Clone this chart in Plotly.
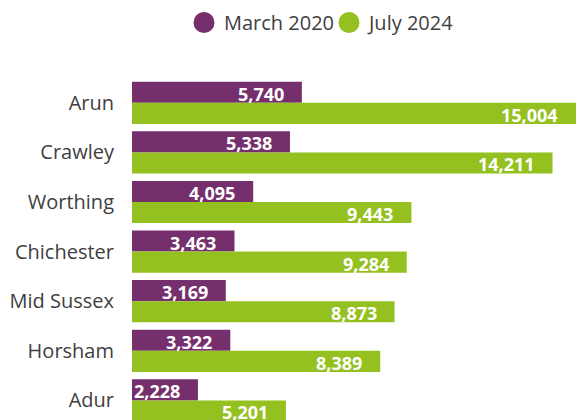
import plotly.graph_objects as go

categories = ["Arun", "Crawley", "Worthing", "Chichester", "Mid Sussex", "Horsham", "Adur"]
march_2020 = [5740, 5338, 4095, 3463, 3169, 3322, 2228]
july_2024 = [15004, 14211, 9443, 9284, 8873, 8389, 5201]
series_names = ["March 2020", "July 2024"]

PURPLE = "#752F6C"
GREEN = "#94C11F"
FONT = "Open Sans"
GREY = "#404040"

fig = go.Figure()
fig.add_trace(go.Bar(y=categories, x=march_2020, orientation="h", name=series_names[0],
                     marker=dict(color=PURPLE, line=dict(width=0)), showlegend=False,
                     hoverinfo="x+y"))
fig.add_trace(go.Bar(y=categories, x=july_2024, orientation="h", name=series_names[1],
                     marker=dict(color=GREEN, line=dict(width=0)), showlegend=False,
                     hoverinfo="x+y"))
# legend entries with circle symbols
for name, col in zip(series_names, [PURPLE, GREEN]):
    fig.add_trace(go.Scatter(x=[None], y=[None], mode="markers", name=name,
                             marker=dict(symbol="circle", size=16, color=col,
                                         line=dict(color=col, width=5))))

annotations = []
for vals, shift in [(march_2020, 9), (july_2024, -12)]:
    for cat, v in zip(categories, vals):
        annotations.append(dict(x=v, y=cat, xref="x", yref="y", text=f"{v:,}",
                                showarrow=False, xanchor="right", yanchor="middle",
                                xshift=-16, yshift=shift,
                                font=dict(family=FONT, size=18, color="white", weight="bold")))

fig.update_layout(
    width=577, height=420,
    margin=dict(l=132, r=0, t=78, b=0, pad=0),
    barmode="group", bargap=0.15, bargroupgap=0,
    plot_bgcolor="white", paper_bgcolor="white",
    font=dict(family=FONT, size=20, color=GREY),
    showlegend=True,
    legend=dict(orientation="h", xref="container", yref="container",
                x=184 / 577, xanchor="left", y=1 - 3 / 420, yanchor="top",
                entrywidth=100, entrywidthmode="pixels",
                font=dict(family=FONT, size=20, color=GREY),
                itemsizing="trace", traceorder="normal",
                bgcolor="rgba(0,0,0,0)", itemclick=False, itemdoubleclick=False),
    xaxis=dict(range=[0, 15038], visible=False, showgrid=False, zeroline=False),
    yaxis=dict(range=[6.395, -0.5], showgrid=False, zeroline=False, showline=False,
               ticks="", ticklabelstandoff=17,
               tickfont=dict(family=FONT, size=20, color=GREY)),
    annotations=annotations,
)

fig.write_html("out.html", config={"displayModeBar": False},
               post_script="document.body.style.margin='0';document.body.style.padding='0';"
                           "document.body.style.overflow='hidden';")
